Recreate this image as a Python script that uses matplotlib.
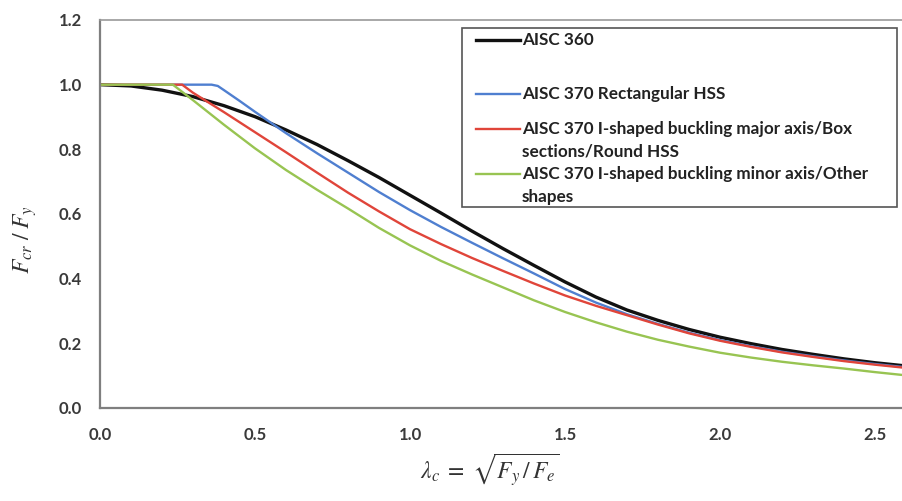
import matplotlib
matplotlib.use("Agg")
import matplotlib.pyplot as plt
from matplotlib.lines import Line2D
from matplotlib.patches import Rectangle

# ---------------- data ----------------
x_360 = [0.0, 0.1, 0.2, 0.3, 0.4, 0.5, 0.6, 0.7, 0.8, 0.9, 1.0, 1.1, 1.2, 1.3,
         1.4, 1.5, 1.6, 1.7, 1.8, 1.9, 2.0, 2.1, 2.2, 2.3, 2.4, 2.5, 2.6]
y_360 = [1.000, 0.996, 0.983, 0.963, 0.935, 0.901, 0.860, 0.815, 0.765, 0.713,
         0.658, 0.603, 0.547, 0.493, 0.441, 0.390, 0.343, 0.303, 0.271, 0.243,
         0.219, 0.199, 0.181, 0.166, 0.152, 0.140, 0.130]

x_rect = [0.0, 0.36, 0.38, 0.40, 0.45, 0.5, 0.6, 0.7, 0.8, 0.9, 1.0, 1.1, 1.2,
          1.3, 1.4, 1.5, 1.6, 1.7, 1.8, 1.9, 2.0, 2.1, 2.2, 2.3, 2.4, 2.5, 2.6]
y_rect = [1.000, 1.000, 0.996, 0.983, 0.950, 0.916, 0.850, 0.788, 0.728, 0.668,
          0.612, 0.560, 0.511, 0.463, 0.416, 0.368, 0.326, 0.290, 0.260, 0.233,
          0.210, 0.191, 0.174, 0.160, 0.147, 0.136, 0.126]

x_major = [0.0, 0.265, 0.3, 0.4, 0.5, 0.6, 0.7, 0.8, 0.9, 1.0, 1.1, 1.2, 1.3,
           1.4, 1.5, 1.6, 1.7, 1.8, 1.9, 2.0, 2.1, 2.2, 2.3, 2.4, 2.5, 2.6]
y_major = [1.000, 1.000, 0.975, 0.915, 0.853, 0.791, 0.728, 0.666, 0.608, 0.553,
           0.507, 0.464, 0.424, 0.385, 0.348, 0.316, 0.287, 0.258, 0.231, 0.208,
           0.189, 0.172, 0.158, 0.145, 0.134, 0.124]

x_minor = [0.0, 0.235, 0.3, 0.4, 0.5, 0.6, 0.7, 0.8, 0.9, 1.0, 1.1, 1.2, 1.3,
           1.4, 1.5, 1.6, 1.7, 1.8, 1.9, 2.0, 2.1, 2.2, 2.3, 2.4, 2.5, 2.6]
y_minor = [1.000, 1.000, 0.952, 0.876, 0.803, 0.736, 0.675, 0.617, 0.557, 0.503,
           0.455, 0.413, 0.373, 0.333, 0.297, 0.265, 0.236, 0.211, 0.190, 0.171,
           0.156, 0.143, 0.132, 0.122, 0.111, 0.101]

labels = ["AISC 360",
          "AISC 370 Rectangular HSS",
          "AISC 370 I-shaped buckling major axis/Box\nsections/Round HSS",
          "AISC 370 I-shaped buckling minor axis/Other\nshapes"]
colors = ["#111111", "#4F7FD0", "#E0453A", "#98C452"]

x_ticks = [0.0, 0.5, 1.0, 1.5, 2.0, 2.5]
y_ticks = [0.0, 0.2, 0.4, 0.6, 0.8, 1.0, 1.2]

# ---------------- figure ----------------
plt.rcParams['mathtext.fontset'] = 'stix'
W, H = 903, 501
fig = plt.figure(figsize=(W / 100, H / 100), dpi=100)
ax = fig.add_axes([100 / W, (H - 408) / H, (906 - 100) / W, (408 - 20) / H])

series = [(x_360, y_360, 2.4), (x_rect, y_rect, 1.7),
          (x_major, y_major, 1.7), (x_minor, y_minor, 1.7)]
for (xs, ys, lw), c in zip(series, colors):
    ax.plot(xs, ys, color=c, lw=lw, solid_capstyle='butt', solid_joinstyle='round')

ax.set_xlim(0, 2.6)
ax.set_ylim(0, 1.2)
ax.set_xticks(x_ticks)
ax.set_yticks(y_ticks)
ax.set_xticklabels([f"{v:.1f}" for v in x_ticks])
ax.set_yticklabels([f"{v:.1f}" for v in y_ticks])
ax.tick_params(length=0, labelsize=12, labelcolor="#3a3a3a")
ax.tick_params(axis='y', pad=13)
ax.tick_params(axis='x', pad=14)
for lab in ax.get_xticklabels() + ax.get_yticklabels():
    lab.set_fontfamily("Lato")
    lab.set_fontweight("bold")

for s in ['left', 'bottom']:
    ax.spines[s].set_color("#7f7f7f")
    ax.spines[s].set_linewidth(1.6)
ax.spines['top'].set_color("#9a9a9a")
ax.spines['top'].set_linewidth(1.2)
ax.spines['right'].set_color("#9a9a9a")
ax.spines['right'].set_linewidth(1.2)

fig.text(25 / W, 1 - 240 / H, r"$F_{cr}\;/\;F_y$", rotation=90, fontsize=17,
         ha='center', va='center', color="#333333")
fig.text(490 / W, 1 - 470 / H, r"$\lambda_c\;=\;\sqrt{F_y\,/\,F_e}$", fontsize=17,
         ha='center', va='center', color="#333333")

# ---------------- legend (drawn manually) ----------------
def fx(px):
    return px / W

def fy(py):
    return 1 - py / H

fig.patches.append(Rectangle((fx(462), fy(207)), fx(897) - fx(462), fy(28) - fy(207),
                             transform=fig.transFigure, fill=True, facecolor='white',
                             edgecolor="#555555", lw=1.2, zorder=5))
rows = [40, 94, 129, 174]
line_gap = 22.7
for lab, c, ry, (_, _, lw) in zip(labels, colors, rows, series):
    fig.lines.append(Line2D([fx(476), fx(520)], [fy(ry), fy(ry)], color=c, lw=lw,
                            transform=fig.transFigure, zorder=6))
    for i, part in enumerate(lab.split("\n")):
        fig.text(fx(522), fy(ry + i * line_gap), part, ha='left', va='center',
                 fontsize=12.3, family="Lato", fontweight='bold', color="#222222",
                 zorder=7, transform=fig.transFigure)

fig.savefig("out.png", dpi=100)
